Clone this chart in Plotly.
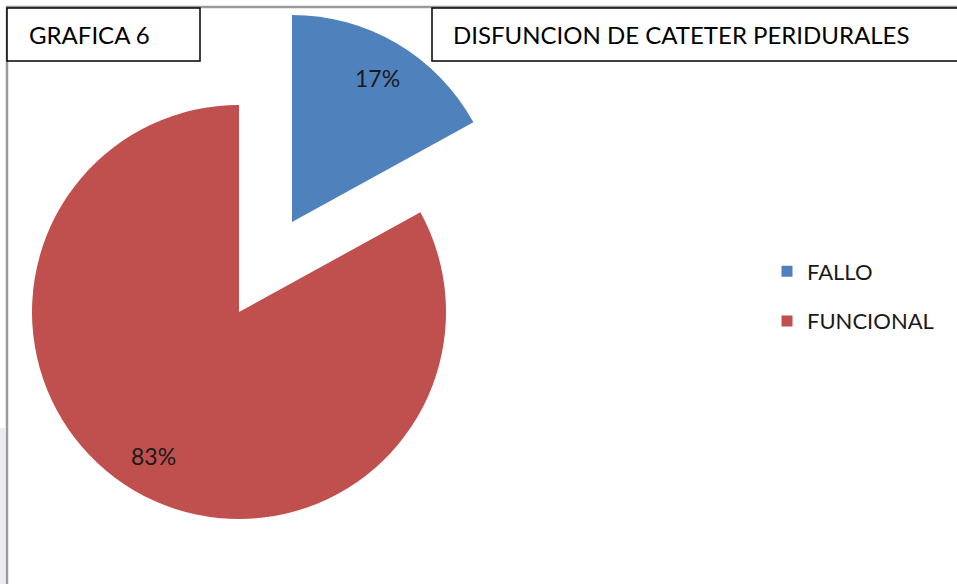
import math
import plotly.graph_objects as go

# ---- data ----
labels = ["FALLO", "FUNCIONAL"]
values = [17, 83]
colors = ["#4F81BD", "#C0504D"]
title_left = "GRAFICA 6"
title_right = "DISFUNCION DE CATETER PERIDURALES"

W, H = 957, 584
FONT = "Lato, Calibri, Carlito, sans-serif"

def px_x(x):
    return x / W

def px_y(y):
    return 1 - y / H

def domain(cx, cy, r):
    return dict(x=[px_x(cx - r), px_x(cx + r)], y=[px_y(cy + r), px_y(cy - r)])

R = 207
LABEL_FRAC = 0.81
fig = go.Figure()

# each slice is drawn from its own pie trace so the exploded slice keeps full radius
centers = [(292, 222), (239, 312)]
total = sum(values)
annots = []
cum = 0
for i in range(len(labels)):
    cols = [c if j == i else "rgba(0,0,0,0)" for j, c in enumerate(colors)]
    cx, cy = centers[i]
    fig.add_trace(go.Pie(
        labels=labels, values=values, sort=False, direction="clockwise", rotation=0,
        marker=dict(colors=cols, line=dict(width=0)),
        textinfo="none", domain=domain(cx, cy, R), showlegend=False,
        hoverinfo="label+percent",
    ))
    mid = (cum + values[i] / 2) / total * 2 * math.pi
    cum += values[i]
    lx = cx + LABEL_FRAC * R * math.sin(mid)
    ly = cy - LABEL_FRAC * R * math.cos(mid)
    annots.append(dict(text=f"{round(values[i] / total * 100)}%", xref="paper", yref="paper",
                       x=px_x(lx), y=px_y(ly), xanchor="center", yanchor="middle",
                       showarrow=False, font=dict(family=FONT, size=23, color="#1a1a1a")))

# legend entries
for i, (lab, col) in enumerate(zip(labels, colors)):
    fig.add_trace(go.Scatter(
        x=[None], y=[None], mode="markers", name=lab, legendgroup=lab,
        marker=dict(symbol="square", size=11, color=col),
    ))

fig.update_layout(
    width=W, height=H, margin=dict(l=0, r=0, t=0, b=0),
    paper_bgcolor="white", plot_bgcolor="white",
    xaxis=dict(visible=False), yaxis=dict(visible=False),
    legend=dict(x=px_x(767), y=px_y(296.5), xanchor="left", yanchor="middle",
                font=dict(family=FONT, size=22, color="#1a1a1a"),
                tracegroupgap=18, itemwidth=30, bgcolor="rgba(0,0,0,0)"),
    shapes=[
        dict(type="rect", xref="paper", yref="paper", x0=0, x1=px_x(5), y0=0, y1=px_y(428),
             line=dict(width=0), fillcolor="#ebebf0", layer="below"),
        dict(type="rect", xref="paper", yref="paper", x0=px_x(7), x1=1.05, y0=-0.05, y1=px_y(7),
             line=dict(color="#9a9a9a", width=2.5), fillcolor="rgba(0,0,0,0)", layer="below"),
        dict(type="rect", xref="paper", yref="paper", x0=px_x(7), x1=px_x(200), y0=px_y(61), y1=px_y(8),
             line=dict(color="black", width=1.5), fillcolor="white"),
        dict(type="rect", xref="paper", yref="paper", x0=px_x(432), x1=1.05, y0=px_y(61), y1=px_y(8),
             line=dict(color="black", width=1.5), fillcolor="white"),
    ],
    annotations=annots + [
        dict(text=title_left, xref="paper", yref="paper", x=px_x(27), y=px_y(35),
             xanchor="left", yanchor="middle", showarrow=False,
             font=dict(family=FONT, size=24, color="black")),
        dict(text=title_right, xref="paper", yref="paper", x=px_x(451), y=px_y(35),
             xanchor="left", yanchor="middle", showarrow=False,
             font=dict(family=FONT, size=24, color="black")),
    ],
)

fig.write_html("out.html", config={"displayModeBar": False},
               post_script="document.body.style.margin='0px';")
